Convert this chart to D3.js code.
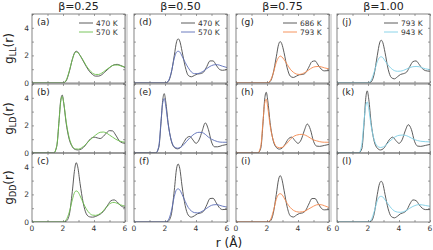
<!DOCTYPE html>
<html>
<head>
<meta charset="utf-8">
<script src="https://cdn.jsdelivr.net/npm/d3@7"></script>
<style>
  body { margin: 0; background: #fff; }
  text { font-family: "DejaVu Sans", sans-serif; }
</style>
</head>
<body>
<svg id="chart" width="433" height="250"></svg>
<script>
// r grids (Å) the curves were read at
var rLL = [0, 2.0, 2.2, 2.4, 2.6, 2.75, 2.85, 2.95, 3.1, 3.3, 3.5, 3.7, 3.9, 4.1, 4.3, 4.5, 4.7, 4.9, 5.1, 5.3, 5.5, 5.7, 6.0];
var rLD = [0, 1.4, 1.6, 1.75, 1.85, 1.95, 2.05, 2.2, 2.4, 2.6, 2.8, 3.0, 3.2, 3.4, 3.6, 3.8, 4.0, 4.2, 4.4, 4.6, 4.8, 5.0, 5.2, 5.4, 5.7, 6.0];

var betas = ["β=0.25", "β=0.50", "β=0.75", "β=1.00"];
var temps = [["470 K", "570 K"], ["470 K", "570 K"], ["686 K", "793 K"], ["793 K", "943 K"]];
var hotColors = ["#6cbf4c", "#5b6db8", "#f5884c", "#7fcfe6"];
var coolColor = "#4a4a4a";
var rowSubs = ["LL", "LD", "DD"];
var letters = [["a", "d", "g", "j"], ["b", "e", "h", "k"], ["c", "f", "i", "l"]];
var xTicks = [0, 2, 4, 6];
var yTicks = [0, 2, 4];

// g_LL (on rLL)
var a470 = [0, 0, 0.15, 0.8, 1.7, 2.2, 2.3, 2.25, 2.0, 1.6, 1.2, 0.85, 0.62, 0.5, 0.5, 0.6, 0.8, 1.0, 1.2, 1.32, 1.35, 1.28, 1.12];
var a570 = [0, 0, 0.2, 0.85, 1.7, 2.15, 2.25, 2.2, 2.0, 1.65, 1.25, 0.95, 0.72, 0.62, 0.62, 0.72, 0.88, 1.05, 1.2, 1.3, 1.3, 1.25, 1.15];
var d470 = [0, 0, 0.1, 0.7, 2.0, 3.0, 3.2, 3.05, 2.3, 1.2, 0.55, 0.45, 0.55, 0.65, 0.68, 0.8, 1.2, 1.6, 1.6, 1.3, 1.0, 0.92, 0.98];
var d570 = [0, 0, 0.12, 0.75, 1.8, 2.25, 2.3, 2.25, 1.95, 1.5, 1.1, 0.8, 0.68, 0.68, 0.75, 0.88, 1.05, 1.2, 1.3, 1.33, 1.3, 1.22, 1.12];
var g686 = [0, 0, 0.1, 0.7, 1.9, 2.8, 3.0, 2.85, 2.2, 1.1, 0.5, 0.4, 0.5, 0.6, 0.62, 0.75, 1.15, 1.55, 1.6, 1.3, 1.0, 0.88, 0.9];
var g793 = [0, 0, 0.15, 0.7, 1.5, 1.85, 1.95, 1.9, 1.7, 1.35, 1.0, 0.78, 0.65, 0.62, 0.68, 0.8, 0.95, 1.1, 1.18, 1.2, 1.17, 1.1, 1.02];
var j793 = [0, 0, 0.08, 0.65, 2.0, 2.9, 3.1, 2.95, 2.2, 1.0, 0.4, 0.3, 0.45, 0.62, 0.68, 0.8, 1.2, 1.55, 1.6, 1.35, 1.05, 0.9, 0.85];
var j943 = [0, 0, 0.2, 0.8, 1.55, 1.85, 1.9, 1.85, 1.6, 1.3, 1.05, 0.9, 0.85, 0.86, 0.92, 1.02, 1.12, 1.18, 1.2, 1.18, 1.1, 1.03, 0.97];

// g_LD (on rLD)
var b470 = [0, 0, 0.5, 2.4, 3.8, 4.2, 3.6, 2.2, 1.0, 0.45, 0.25, 0.22, 0.3, 0.5, 0.8, 1.05, 1.15, 1.1, 1.05, 1.2, 1.45, 1.62, 1.6, 1.3, 0.8, 0.7];
var b570 = [0, 0, 0.55, 2.4, 3.7, 4.1, 3.6, 2.3, 1.1, 0.5, 0.3, 0.28, 0.38, 0.55, 0.78, 1.0, 1.2, 1.38, 1.5, 1.52, 1.45, 1.3, 1.15, 1.0, 0.85, 0.78];
var e470 = [0, 0, 0.4, 2.3, 3.8, 4.3, 3.7, 2.2, 0.9, 0.4, 0.3, 0.4, 0.75, 1.1, 1.2, 0.95, 0.7, 0.95, 1.6, 2.18, 1.7, 0.8, 0.45, 0.45, 0.55, 0.62];
var e570 = [0, 0, 0.5, 2.4, 3.6, 3.95, 3.4, 2.1, 0.95, 0.45, 0.35, 0.4, 0.6, 0.85, 1.1, 1.3, 1.45, 1.5, 1.48, 1.35, 1.15, 1.0, 0.9, 0.82, 0.78, 0.78];
var h686 = [0, 0, 0.35, 2.3, 3.9, 4.4, 3.8, 2.2, 0.9, 0.4, 0.28, 0.38, 0.7, 1.05, 1.15, 0.9, 0.7, 0.95, 1.6, 2.1, 1.7, 0.85, 0.5, 0.48, 0.55, 0.62];
var h793 = [0, 0, 0.5, 2.4, 3.6, 3.9, 3.3, 2.0, 0.95, 0.48, 0.38, 0.42, 0.6, 0.85, 1.1, 1.25, 1.32, 1.35, 1.32, 1.22, 1.08, 0.95, 0.88, 0.82, 0.78, 0.78];
var k793 = [0, 0, 0.3, 2.2, 3.9, 4.5, 3.9, 2.2, 0.85, 0.35, 0.22, 0.32, 0.65, 1.0, 1.15, 0.9, 0.7, 0.95, 1.6, 2.05, 1.7, 0.85, 0.5, 0.48, 0.55, 0.62];
var k943 = [0, 0, 0.6, 2.4, 3.4, 3.7, 3.2, 2.0, 0.95, 0.5, 0.4, 0.45, 0.62, 0.85, 1.05, 1.2, 1.28, 1.3, 1.28, 1.2, 1.08, 0.97, 0.9, 0.85, 0.82, 0.8];

// g_DD (on rLL)
var c470 = [0, 0, 0.05, 0.5, 2.2, 3.8, 4.3, 4.0, 2.8, 1.4, 0.6, 0.38, 0.35, 0.4, 0.5, 0.65, 0.9, 1.25, 1.55, 1.6, 1.45, 1.2, 1.05];
var c570 = [0, 0, 0.15, 0.7, 1.6, 2.15, 2.25, 2.2, 1.9, 1.4, 0.95, 0.65, 0.5, 0.48, 0.55, 0.7, 0.95, 1.2, 1.38, 1.42, 1.35, 1.25, 1.15];
var f470 = [0, 0, 0.05, 0.5, 2.3, 3.9, 4.2, 3.9, 2.6, 1.2, 0.5, 0.35, 0.45, 0.6, 0.65, 0.8, 1.25, 1.7, 1.72, 1.4, 1.05, 0.9, 0.92];
var f570 = [0, 0, 0.12, 0.75, 1.85, 2.35, 2.4, 2.33, 2.0, 1.5, 1.05, 0.8, 0.68, 0.66, 0.72, 0.85, 1.0, 1.15, 1.24, 1.26, 1.22, 1.15, 1.08];
var i686 = [0, 0, 0.06, 0.6, 2.0, 3.1, 3.36, 3.15, 2.3, 1.1, 0.45, 0.36, 0.5, 0.62, 0.66, 0.85, 1.3, 1.7, 1.7, 1.35, 1.0, 0.88, 0.9];
var i793 = [0, 0, 0.12, 0.75, 1.65, 2.0, 2.05, 2.0, 1.75, 1.35, 1.05, 0.85, 0.75, 0.72, 0.74, 0.82, 0.95, 1.08, 1.2, 1.26, 1.25, 1.18, 1.05];
var l793 = [0, 0, 0.05, 0.6, 2.0, 2.8, 2.95, 2.8, 2.0, 0.95, 0.4, 0.3, 0.42, 0.6, 0.68, 0.85, 1.3, 1.6, 1.55, 1.25, 1.0, 0.9, 0.9];
var l943 = [0, 0, 0.15, 0.75, 1.55, 1.83, 1.86, 1.82, 1.6, 1.3, 1.0, 0.8, 0.72, 0.7, 0.75, 0.85, 1.0, 1.13, 1.22, 1.26, 1.24, 1.2, 1.14];

var rows = [
  { r: rLL, cool: [a470, d470, g686, j793], hot: [a570, d570, g793, j943] },
  { r: rLD, cool: [b470, e470, h686, k793], hot: [b570, e570, h793, k943] },
  { r: rLL, cool: [c470, f470, i686, l793], hot: [c570, f570, i793, l943] }
];

var svg = d3.select("#chart");
var colLeft = [32, 134, 236, 337];
var rowTop = [14, 84, 153];
var pw = 93, ph = 69;

var x = d3.scaleLinear().domain([0, 6]).range([0, pw]);
var y = d3.scaleLinear().domain([0, 5]).range([ph, 0]);

var line = d3.line()
  .x(function(d){ return x(d[0]); })
  .y(function(d){ return y(d[1]); })
  .curve(d3.curveMonotoneX);

// gray separator strips between columns
for (var c = 0; c < 3; c++) {
  svg.append("rect")
    .attr("x", colLeft[c] + pw).attr("y", rowTop[0])
    .attr("width", 3).attr("height", rowTop[2] + ph - rowTop[0])
    .attr("fill", "#dcdcdc");
}

rows.forEach(function(row, ri){
  for (var ci = 0; ci < 4; ci++) {
    var g = svg.append("g").attr("transform", "translate(" + colLeft[ci] + "," + rowTop[ri] + ")");
    var clipId = "clip" + ri + ci;
    g.append("clipPath").attr("id", clipId)
      .append("rect").attr("width", pw).attr("height", ph);

    // ticks, inward on all sides
    var ax = d3.axisBottom(x).ticks(6).tickSize(-2).tickFormat("");
    g.append("g").attr("transform", "translate(0," + ph + ")").call(ax);
    g.append("g").call(d3.axisTop(x).ticks(6).tickSize(-2).tickFormat(""));
    g.append("g").call(d3.axisLeft(y).ticks(5).tickSize(-2).tickFormat(""));
    g.append("g").attr("transform", "translate(" + pw + ",0)").call(d3.axisRight(y).ticks(5).tickSize(-2).tickFormat(""));
    g.selectAll(".domain").remove();
    g.selectAll(".tick line").attr("stroke", "#777").attr("stroke-width", 0.7);

    var cool = row.r.map(function(r, i){ return [r, row.cool[ci][i]]; });
    var hot = row.r.map(function(r, i){ return [r, row.hot[ci][i]]; });

    var plot = g.append("g").attr("clip-path", "url(#" + clipId + ")");
    plot.append("path").datum(cool)
      .attr("d", line).attr("fill", "none")
      .attr("stroke", coolColor).attr("stroke-width", 0.9);
    plot.append("path").datum(hot)
      .attr("d", line).attr("fill", "none")
      .attr("stroke", hotColors[ci]).attr("stroke-width", 0.9);

    g.append("rect").attr("width", pw).attr("height", ph)
      .attr("fill", "none").attr("stroke", "#666").attr("stroke-width", 0.8);

    g.append("text").attr("x", 5).attr("y", 11)
      .attr("font-size", 9).attr("fill", "#222")
      .text("(" + letters[ri][ci] + ")");

    if (ri === 0) {
      [0, 1].forEach(function(k){
        g.append("line")
          .attr("x1", 47).attr("x2", 61)
          .attr("y1", 9 + k * 9).attr("y2", 9 + k * 9)
          .attr("stroke", k === 0 ? coolColor : hotColors[ci]).attr("stroke-width", 0.9);
        g.append("text").attr("x", 64).attr("y", 12 + k * 9)
          .attr("font-size", 7.5).attr("fill", "#333")
          .text(temps[ci][k]);
      });
      svg.append("text")
        .attr("x", colLeft[ci] + pw / 2).attr("y", 10)
        .attr("text-anchor", "middle").attr("font-size", 11).attr("fill", "#222")
        .text(betas[ci]);
    }

    if (ci === 0) {
      yTicks.forEach(function(t){
        g.append("text").attr("x", -3).attr("y", y(t) + 3)
          .attr("text-anchor", "end").attr("font-size", 7.5).attr("fill", "#333")
          .text(t);
      });
      var yt = svg.append("text")
        .attr("transform", "translate(13," + (rowTop[ri] + ph / 2) + ") rotate(-90)")
        .attr("text-anchor", "middle").attr("font-size", 12).attr("fill", "#222");
      yt.append("tspan").text("g");
      yt.append("tspan").attr("font-size", 8).attr("dy", 3).text(rowSubs[ri]);
      yt.append("tspan").attr("dy", -3).text("(r)");
    }

    if (ri === 2) {
      xTicks.forEach(function(t){
        g.append("text").attr("x", x(t)).attr("y", ph + 9)
          .attr("text-anchor", "middle").attr("font-size", 7.5).attr("fill", "#333")
          .text(t);
      });
    }
  }
});

svg.append("text")
  .attr("x", 229).attr("y", 247)
  .attr("text-anchor", "middle").attr("font-size", 12).attr("fill", "#222")
  .text("r (Å)");
</script>
</body>
</html>
